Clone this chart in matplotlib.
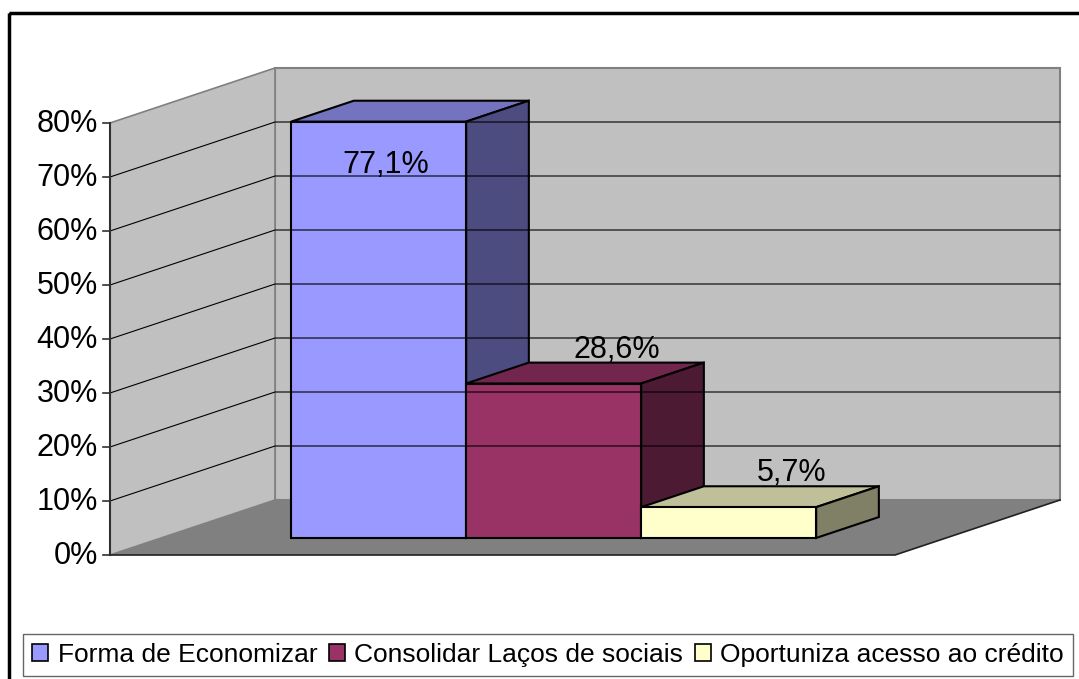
import matplotlib
matplotlib.use("Agg")
import matplotlib.pyplot as plt
from matplotlib.patches import Polygon, Patch, Rectangle

plt.rcParams['font.family'] = ['Liberation Sans', 'DejaVu Sans']

categories = ["Forma de Economizar", "Consolidar Laços de sociais", "Oportuniza acesso ao crédito"]
values = [77.1, 28.6, 5.7]
value_labels = ["77,1%", "28,6%", "5,7%"]
yticks = [0, 10, 20, 30, 40, 50, 60, 70, 80]
ytick_labels = ["%d%%" % t for t in yticks]

front_colors = ["#9999FF", "#993366", "#FFFFCC"]
top_colors = ["#7373BF", "#73264D", "#BFBF99"]
side_colors = ["#4C4C80", "#4C1A33", "#808066"]

# oblique projection (pixel space of the figure)
X0, Y0 = 110, 555      # front-left corner of the floor
BW = 175               # width of one bar
K = 5.4                # px per percent
DX, DY = 165, 55       # depth offset
GAP = 130 / BW
XMAX = 3 + 2 * GAP
YMAX = 80
Z0, Z1 = 0.31, 0.69    # depth of bars


def proj(x, v, z):
    return (X0 + x * BW + z * DX, Y0 - v * K - z * DY)


fig = plt.figure(figsize=(10.79, 6.79), dpi=100)
ax = fig.add_axes([0, 0, 1, 1])
ax.set_xlim(0, 1079)
ax.set_ylim(679, 0)
ax.axis("off")

# outer frame
ax.add_patch(Rectangle((9, 13), 1090, 700, fill=False, lw=2.5, ec="black"))

# walls and floor
back = [proj(0, 0, 1), proj(XMAX, 0, 1), proj(XMAX, YMAX, 1), proj(0, YMAX, 1)]
left = [proj(0, 0, 0), proj(0, 0, 1), proj(0, YMAX, 1), proj(0, YMAX, 0)]
floor = [proj(0, 0, 0), proj(XMAX, 0, 0), proj(XMAX, 0, 1), proj(0, 0, 1)]
ax.add_patch(Polygon(back, closed=True, fc="#C0C0C0", ec="#808080", lw=1.5))
ax.add_patch(Polygon(left, closed=True, fc="#C0C0C0", ec="#808080", lw=1.2))
ax.add_patch(Polygon(floor, closed=True, fc="#808080", ec="none"))

# gridlines
for t in yticks[1:-1]:
    a, b, c = proj(0, t, 0), proj(0, t, 1), proj(XMAX, t, 1)
    ax.plot([a[0], b[0], c[0]], [a[1], b[1], c[1]], color="black", lw=0.8)

# floor edges
a, b, c = proj(0, 0, 0), proj(XMAX, 0, 0), proj(XMAX, 0, 1)
ax.plot([a[0], b[0], c[0]], [a[1], b[1], c[1]], color="#202020", lw=1.2)

# value axis
a, b = proj(0, 0, 0), proj(0, YMAX, 0)
ax.plot([a[0], b[0]], [a[1], b[1]], color="#303030", lw=1.5)
for t, lab in zip(yticks, ytick_labels):
    x, y = proj(0, t, 0)
    ax.plot([x - 7, x], [y, y], color="#303030", lw=1.2)
    ax.text(x - 12, y + 1, lab, ha="right", va="center", fontsize=22)

# bars
for i, v in enumerate(values):
    x0, x1 = GAP + i, GAP + i + 1
    top = [proj(x0, v, Z0), proj(x1, v, Z0), proj(x1, v, Z1), proj(x0, v, Z1)]
    side = [proj(x1, 0, Z0), proj(x1, 0, Z1), proj(x1, v, Z1), proj(x1, v, Z0)]
    front = [proj(x0, 0, Z0), proj(x1, 0, Z0), proj(x1, v, Z0), proj(x0, v, Z0)]
    ax.add_patch(Polygon(top, closed=True, fc=top_colors[i], ec="black", lw=1.5))
    ax.add_patch(Polygon(side, closed=True, fc=side_colors[i], ec="black", lw=1.5))
    ax.add_patch(Polygon(front, closed=True, fc=front_colors[i], ec="black", lw=1.5))

# value labels
for i, (v, lab) in enumerate(zip(values, value_labels)):
    if v > 70:
        x, y = proj(GAP + i + 0.54, v - 9.5, Z0)
    else:
        x, y = proj(GAP + i + 0.5, v, Z1)
        y -= 5
    ax.text(x, y, lab, ha="center", va="baseline", fontsize=22)

# legend
handles = [Patch(fc=c, ec="black", lw=1.2) for c in front_colors]
leg = fig.legend(handles, categories, loc="center", ncol=3,
                 bbox_to_anchor=(548 / 1079, 1 - 655 / 679),
                 fontsize=19, frameon=True, fancybox=False,
                 handlelength=0.6, handleheight=0.6, handletextpad=0.35,
                 borderpad=0.35, borderaxespad=0, columnspacing=0.45)
leg.get_frame().set_edgecolor("#404040")
leg.get_frame().set_linewidth(1.0)

fig.savefig("out.png", dpi=100)
